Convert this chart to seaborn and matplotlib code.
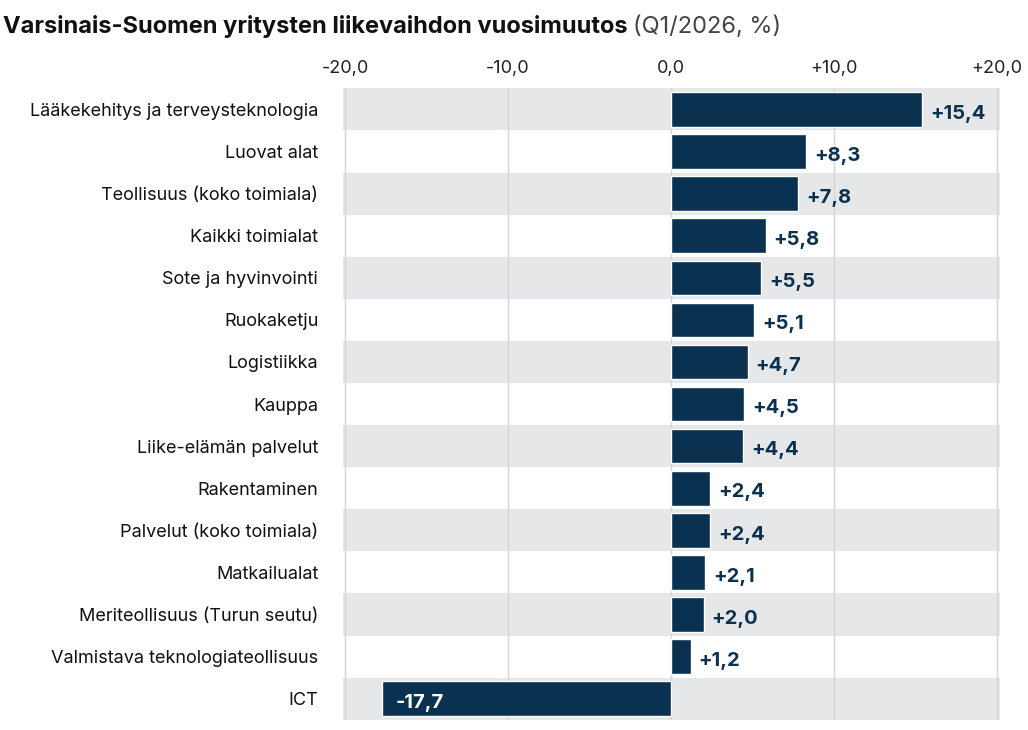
import matplotlib
matplotlib.use("Agg")
import matplotlib.pyplot as plt
import pandas as pd
import seaborn as sns

categories = [
    "Lääkekehitys ja terveysteknologia", "Luovat alat", "Teollisuus (koko toimiala)",
    "Kaikki toimialat", "Sote ja hyvinvointi", "Ruokaketju", "Logistiikka", "Kauppa",
    "Liike-elämän palvelut", "Rakentaminen", "Palvelut (koko toimiala)", "Matkailualat",
    "Meriteollisuus (Turun seutu)", "Valmistava teknologiateollisuus", "ICT",
]
values = [15.4, 8.3, 7.8, 5.8, 5.5, 5.1, 4.7, 4.5, 4.4, 2.4, 2.4, 2.1, 2.0, 1.2, -17.7]
ticks = [-20, -10, 0, 10, 20]

NAVY = "#0a3150"


def fmt(v):
    s = f"{v:+.1f}".replace(".", ",")
    return s if v != 0 else "0,0"


def main():
    sns.set_theme(style="white")
    plt.rcParams["font.family"] = ["Inter", "DejaVu Sans"]
    df = pd.DataFrame({"cat": categories, "val": values})

    fig = plt.figure(figsize=(10.28, 7.30), dpi=100)
    ax = fig.add_axes([0.334, 0.014, 0.639, 0.865])

    for i in range(0, len(categories), 2):
        ax.axhspan(i - 0.5, i + 0.5, color="#e6e7e9", zorder=0, lw=0)
    for t in ticks:
        ax.axvline(t, color="#d5d5d5", lw=1, zorder=1)

    sns.barplot(data=df, x="val", y="cat", color=NAVY, width=0.82,
                saturation=1, ax=ax, zorder=2)

    for i, v in enumerate(values):
        if v >= 0:
            ax.text(v + 0.5, i + 0.1, fmt(v), va="center", ha="left",
                    color=NAVY, fontsize=14.5, fontweight="bold")
        else:
            ax.text(v + 0.8, i + 0.1, fmt(v), va="center", ha="left",
                    color="white", fontsize=14.5, fontweight="bold")

    ax.set_xlim(-20.1, 20.2)
    ax.set_ylim(len(categories) - 0.5, -0.5)
    ax.xaxis.tick_top()
    ax.set_xticks(ticks)
    ax.set_xticklabels([fmt(t) for t in ticks], fontsize=13, color="#222222")
    ax.tick_params(axis="y", labelsize=13, colors="#111111", length=0, pad=18)
    ax.tick_params(axis="x", length=0, pad=8)
    ax.set_xlabel("")
    ax.set_ylabel("")
    for s in ax.spines.values():
        s.set_visible(False)

    t1 = fig.text(0.003, 0.955, "Varsinais-Suomen yritysten liikevaihdon vuosimuutos ",
                  fontsize=17, fontweight="bold", color="#111111", va="baseline")
    fig.canvas.draw()
    bb = t1.get_window_extent()
    fig.text(bb.x1 / fig.bbox.width, 0.955, "(Q1/2026, %)", fontsize=17,
             color="#444444", va="baseline")

    fig.savefig("out.png", dpi=100)


if __name__ == "__main__":
    main()
